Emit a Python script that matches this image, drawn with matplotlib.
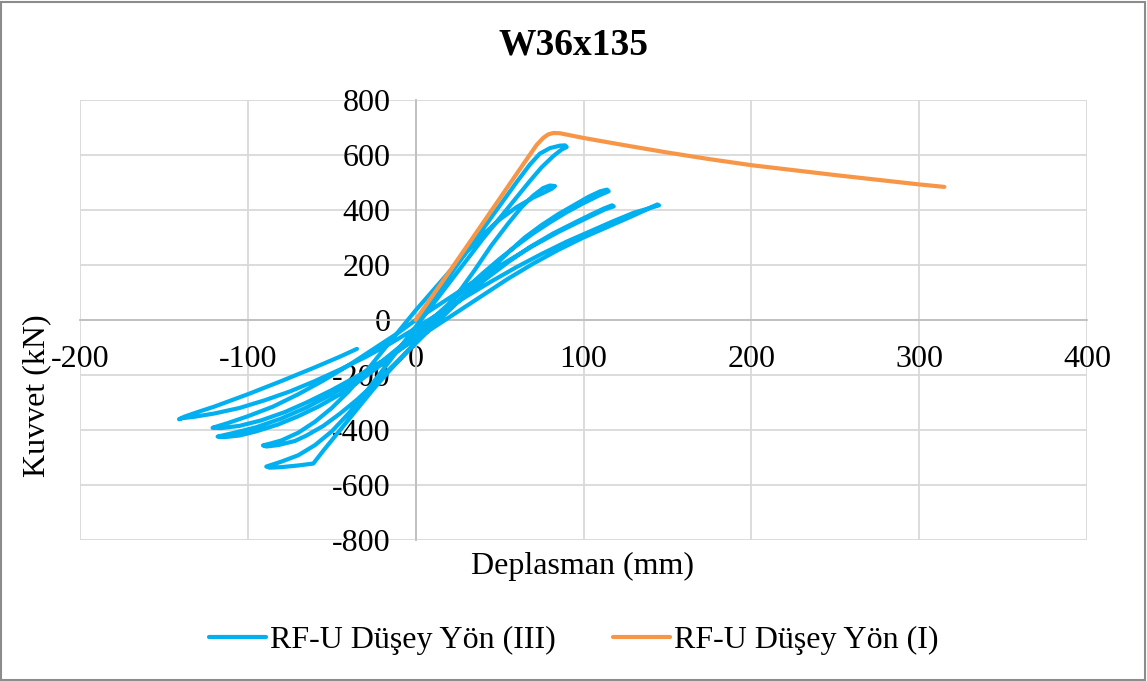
import numpy as np
import matplotlib
matplotlib.use("Agg")
import matplotlib.pyplot as plt
from matplotlib.patches import Rectangle

#----------------------------------
# Data
#----------------------------------
# RF-U Dusey Yon (I) : monotonic curve
disp_i  = [0, 20, 40, 60, 72, 76, 79, 82, 86, 100, 125, 150, 175, 200, 250, 300, 315]
force_i = [0, 175, 352, 530, 636, 662, 675, 680, 679, 662, 635, 609, 585, 563, 527, 493, 484]

# RF-U Dusey Yon (III) : cyclic curve, in path order
disp_iii = [0, 5, 10, 20, 30, 40, 50, 60, 68, 74, 80, 86, 89, 90, 87,
            82, 75, 68, 60, 50, 40, 30, 20, 10, 0, -10, -20, -30, -40, -50, -60, -70, -80, -86, -89, -87, -80, -70, -61,
            -55, -45, -35, -25, -15, -5, 5, 15, 25, 35, 45, 55, 63, 70, 76, 80, 83, 81, 76,
            70, 60, 50, 40, 30, 20, 10, 0, -10, -20, -30, -40, -50, -60, -70, -80, -87, -91, -89, -82, -72,
            -65, -55, -45, -35, -25, -15, -5, 5, 15, 25, 35, 45, 55, 65, 75, 85, 95, 103, 110, 114, 115, 110,
            100, 90, 80, 70, 60, 50, 40, 30, 20, 10, 0, -10, -20, -35, -50, -65, -80, -95, -108, -115, -118, -114, -105,
            -95, -82, -70, -58, -45, -32, -20, -8, 5, 18, 30, 42, 55, 68, 82, 95, 105, 112, 117, 118, 113,
            100, 85, 70, 55, 40, 25, 10, 0, -10, -25, -40, -55, -70, -85, -100, -112, -119, -121, -116, -105,
            -92, -78, -65, -50, -35, -20, -5, 10, 25, 40, 55, 70, 85, 100, 115, 128, 137, 141, 144, 145, 140, 130,
            118, 105, 90, 75, 60, 45, 30, 15, 0, -15, -30, -45, -60, -75, -90, -105, -120, -132, -139, -141,
            -138, -130, -120, -100, -80, -60, -45, -35]
force_iii = [0, 35, 75, 160, 245, 330, 415, 500, 565, 605, 625, 634, 635, 629, 620,
             596, 555, 505, 445, 370, 295, 215, 135, 55, -25, -105, -185, -265, -340, -405, -455, -492, -515, -527, -533, -537, -535, -529, -522,
             -475, -400, -325, -250, -180, -115, -50, 20, 95, 180, 270, 350, 410, 452, 480, 489, 487, 477, 462,
             445, 410, 365, 310, 245, 175, 105, 35, -40, -115, -190, -260, -320, -370, -410, -438, -450, -456, -460, -455, -440,
             -420, -385, -340, -290, -235, -175, -115, -55, 5, 65, 125, 185, 245, 300, 345, 385, 420, 448, 468, 474, 468, 455,
             425, 392, 355, 315, 270, 222, 170, 115, 60, 5, -50, -100, -150, -215, -270, -318, -358, -390, -410, -420, -424, -426, -420,
             -405, -380, -350, -315, -270, -215, -160, -100, -35, 30, 90, 150, 210, 265, 315, 355, 385, 405, 417, 413, 403,
             365, 320, 270, 215, 160, 100, 40, 0, -45, -105, -165, -220, -270, -315, -350, -375, -388, -392, -393, -385,
             -365, -335, -300, -255, -205, -150, -90, -30, 30, 90, 150, 205, 255, 300, 340, 375, 400, 412, 420, 417, 408, 390,
             360, 325, 285, 240, 192, 140, 85, 28, -30, -85, -135, -180, -222, -260, -292, -320, -340, -352, -357, -361,
             -352, -335, -315, -270, -222, -172, -133, -105]

xticks = [-200, -100, 0, 100, 200, 300, 400]
yticks = [-800, -600, -400, -200, 0, 200, 400, 600, 800]

plt.rcParams['font.family'] = ['Liberation Serif', 'DejaVu Serif']
plt.rcParams['axes.unicode_minus'] = False

fig = plt.figure(figsize=(11.47, 6.81), dpi=100)
ax = fig.add_axes([80/1147, 1-540/681, (1087-80)/1147, 440/681])

ax.plot(disp_iii, force_iii, color='#00B0F0', lw=3, solid_joinstyle='round',
        solid_capstyle='round', label='RF-U Düşey Yön (III)', zorder=3)
ax.plot(disp_i, force_i, color='#F79646', lw=3, solid_joinstyle='round',
        solid_capstyle='round', label='RF-U Düşey Yön (I)', zorder=4)

ax.set_xlim(-200, 400)
ax.set_ylim(-800, 800)
ax.set_xticks(xticks)
ax.set_yticks(yticks)
ax.grid(True, color='#D9D9D9', lw=1.3)
ax.set_axisbelow(True)

# Excel style: axes crossing at zero
for s in ['top', 'right']:
    ax.spines[s].set_visible(False)
ax.spines['left'].set_position(('data', 0))
ax.spines['bottom'].set_position(('data', 0))
ax.spines['left'].set_color('#BFBFBF')
ax.spines['bottom'].set_color('#BFBFBF')
ax.spines['left'].set_linewidth(1.3)
ax.spines['bottom'].set_linewidth(1.3)
ax.tick_params(axis='both', length=0, labelsize=23)
ax.tick_params(axis='x', pad=18)
ax.tick_params(axis='y', pad=18)

fig.text(0.5, 1-45/681, 'W36x135', ha='center', va='center', fontsize=27, fontweight='bold')
fig.text(583/1147, 1-566/681, 'Deplasman (mm)', ha='center', va='center', fontsize=23)
fig.text(37/1147, 1-396/681, 'Kuvvet (kN)', ha='center', va='center', fontsize=23, rotation=90)

fig.legend(loc='center', bbox_to_anchor=(0.5, 1-640/681), ncol=2, frameon=False,
           fontsize=23, handlelength=1.8, handletextpad=0.1, columnspacing=1.8)

# chart border
fig.patches.append(Rectangle((0.001, 0.002), 0.997, 0.995, transform=fig.transFigure,
                             fill=False, edgecolor='#8C8C8C', lw=1.5))

plt.savefig("out.png", dpi=100)
plt.close()
